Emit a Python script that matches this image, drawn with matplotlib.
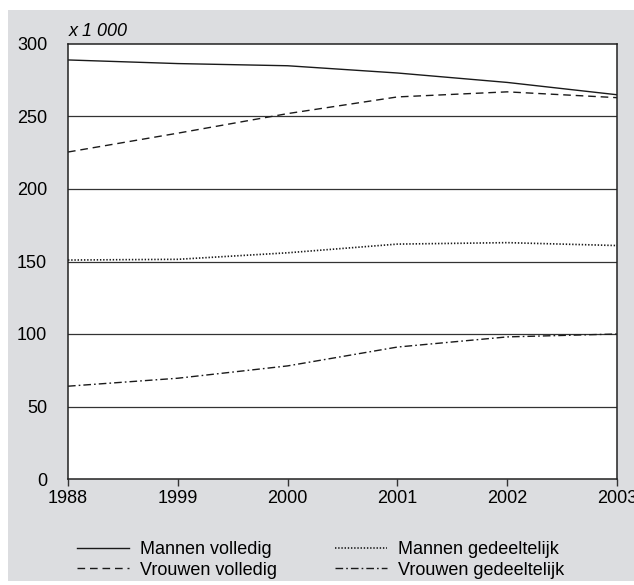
import matplotlib
matplotlib.use("Agg")
import matplotlib.pyplot as plt
from matplotlib.patches import Rectangle

plt.rcParams['font.family'] = ['Liberation Sans', 'DejaVu Sans']
plt.rcParams['lines.scale_dashes'] = False

years = ['1988', '1999', '2000', '2001', '2002', '2003']
mannen_volledig = [289, 286.5, 285, 280, 273.5, 265]
vrouwen_volledig = [225.5, 238.5, 252, 263.5, 267, 263]
mannen_gedeeltelijk = [151, 151.5, 156, 162, 163, 161]
vrouwen_gedeeltelijk = [64, 69.5, 78, 91, 98, 100]
yticks = [0, 50, 100, 150, 200, 250, 300]

W, H = 634, 585
fig = plt.figure(figsize=(W / 100, H / 100), dpi=100)
fig.patch.set_facecolor('white')

# grey panel behind everything
fig.add_artist(Rectangle((8 / W, 1 - 581 / H), 1, (581 - 10) / H,
                         transform=fig.transFigure, facecolor='#dcdde0',
                         edgecolor='none', zorder=0))

ax = fig.add_axes([68 / W, 1 - 479 / H, (617 - 68) / W, (479 - 44) / H])
ax.set_facecolor('white')

x = list(range(len(years)))
dark = '#1a1a1a'
lw = 1.0
h1, = ax.plot(x, mannen_volledig, color=dark, lw=lw, label='Mannen volledig')
h2, = ax.plot(x, vrouwen_volledig, color=dark, lw=lw, dashes=(5.5, 3.5),
              label='Vrouwen volledig')
h3, = ax.plot(x, mannen_gedeeltelijk, color=dark, lw=1.2, dashes=(1.0, 1.3),
              label='Mannen gedeeltelijk')
h4, = ax.plot(x, vrouwen_gedeeltelijk, color=dark, lw=lw,
              dashes=(5.5, 2.2, 1.2, 2.2), label='Vrouwen gedeeltelijk')

for v in yticks[1:-1]:
    ax.axhline(v, color='#333333', lw=0.9, zorder=1)

ax.set_xlim(0, len(years) - 1)
ax.set_ylim(0, 300)
ax.set_xticks(x)
ax.set_xticklabels(years)
ax.set_yticks(yticks)
ax.tick_params(axis='x', direction='out', length=5, width=1, color='#333333',
               labelsize=13, pad=3)
ax.tick_params(axis='y', length=0, labelsize=13, pad=15)
for s in ax.spines.values():
    s.set_color('#222222')
    s.set_linewidth(1.1)

fig.text(69 / W, 1 - 31 / H, 'x 1 000', fontsize=13, style='italic',
         ha='left', va='center')

fig.legend([h1, h2, h3, h4],
           ['Mannen volledig', 'Vrouwen volledig',
            'Mannen gedeeltelijk', 'Vrouwen gedeeltelijk'],
           ncol=2, loc='center left', bbox_to_anchor=(77 / W, 1 - 560 / H),
           frameon=False, fontsize=13, borderpad=0, borderaxespad=0,
           handlelength=2.9, handletextpad=0.6, columnspacing=3.2,
           labelspacing=0.2)

fig.savefig('out.png', dpi=100)
